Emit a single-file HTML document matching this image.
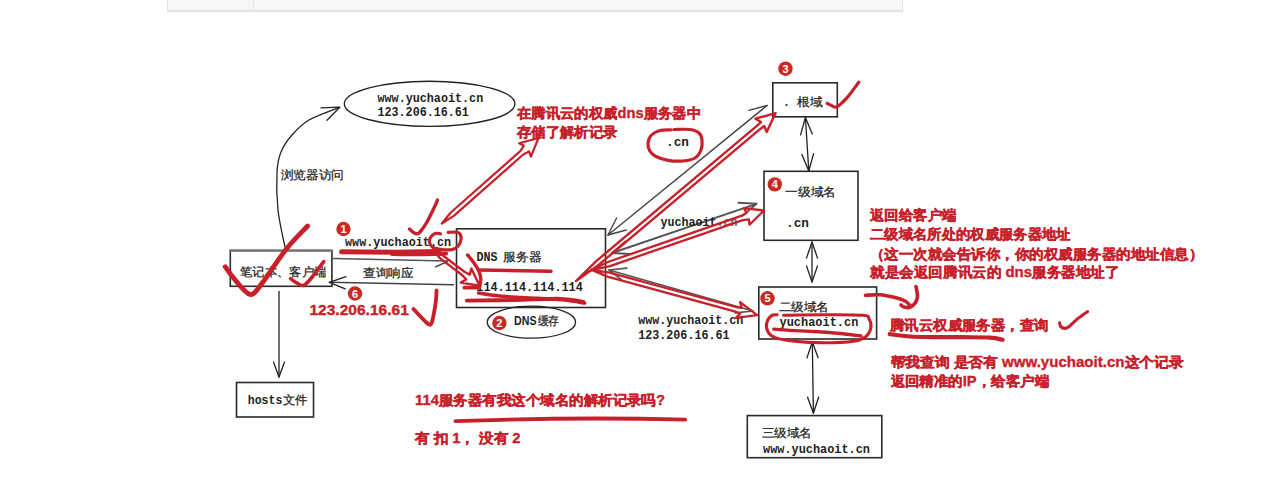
<!DOCTYPE html>
<html><head><meta charset="utf-8"><style>
html,body{margin:0;padding:0;background:#fff;width:1273px;height:500px;overflow:hidden}
#tbl{position:absolute;left:167px;top:0;width:734px;height:10px;background:#f7f7f7;border-left:1px solid #e4e4e4;border-right:1px solid #e4e4e4;border-bottom:2px solid #e4e4e4}
#tbl .d{position:absolute;left:85px;top:0;width:1px;height:10px;background:#e4e4e4}
svg{position:absolute;left:0;top:0}
.cj{font-family:"Liberation Sans",sans-serif;stroke:#222;stroke-width:0.25px}
.lb{font-family:"Liberation Sans",sans-serif}
.mo{font-family:"Liberation Mono",monospace}
.rb{font-family:"Liberation Sans",sans-serif;stroke:#c8202a;stroke-width:0.35px}
</style></head><body>
<div id="tbl"><div class="d"></div></div>
<svg width="1273" height="500" viewBox="0 0 1273 500">
<ellipse cx="429.6" cy="103.8" rx="85.3" ry="22.6" stroke="#222" stroke-width="1.4" fill="none"/>
<text x="377.5" y="101.5" class="mo" font-size="13.3" fill="#222" font-weight="bold" textLength="105.7" lengthAdjust="spacingAndGlyphs" >www.yuchaoit.cn</text>
<text x="377.5" y="115.9" class="mo" font-size="13.3" fill="#222" font-weight="bold" textLength="91.4" lengthAdjust="spacingAndGlyphs" >123.206.16.61</text>
<path d="M339.5,107.3 C334.4,109.4 316.9,115.4 309.0,120.0 C301.1,124.6 296.7,129.7 292.0,135.0 C287.3,140.3 283.5,145.8 281.0,152.0 C278.5,158.2 277.5,162.3 277.0,172.0 C276.5,181.7 276.7,197.5 278.0,210.0 C279.3,222.5 283.8,240.8 285.0,247.0" stroke="#222" stroke-width="1.3" fill="none" stroke-linecap="round" stroke-linejoin="round"/>
<path d="M321.0,107.8 L339.8,107.2 L327.0,120.2" stroke="#222" stroke-width="1.3" fill="none" stroke-linecap="round" stroke-linejoin="round" />
<text x="280.5" y="179" class="cj" font-size="12" fill="#222" font-weight="normal" textLength="63.5" lengthAdjust="spacingAndGlyphs" >浏览器访问</text>
<rect x="230.3" y="250.5" width="101.6" height="35.8" stroke="#2a2a2a" stroke-width="1.6" fill="none"/>
<path d="M230.3,250.6 L331.9,250.6" stroke="#777" stroke-width="2.4" fill="none" stroke-linecap="round" stroke-linejoin="round" />
<text x="239.8" y="275.5" class="cj" font-size="12" fill="#222" font-weight="normal" textLength="86.5" lengthAdjust="spacingAndGlyphs" >笔记本、客户端</text>
<path d="M279.0,291.5 L279.0,377.0" stroke="#222" stroke-width="1.3" fill="none" stroke-linecap="round" stroke-linejoin="round" />
<path d="M284.5,362.0 L279.0,377.0 L273.5,362.0" stroke="#222" stroke-width="1.3" fill="none" stroke-linecap="round" stroke-linejoin="round" />
<rect x="236.5" y="382.5" width="77" height="34.5" stroke="#2a2a2a" stroke-width="1.6" fill="none"/>
<text x="247.8" y="404.2" class="mo" font-size="13.3" fill="#222" font-weight="bold" textLength="34.5" lengthAdjust="spacingAndGlyphs" >hosts</text>
<text x="283" y="404" class="cj" font-size="12" fill="#222" font-weight="normal" textLength="24.5" lengthAdjust="spacingAndGlyphs" >文件</text>
<path d="M333.5,258.4 L447.4,261.0" stroke="#555" stroke-width="1.5" fill="none" stroke-linecap="round" stroke-linejoin="round" />
<path d="M435.5,266.9 L447.4,261.5" stroke="#444" stroke-width="1.5" fill="none" stroke-linecap="round" stroke-linejoin="round" />
<text x="363" y="276.5" class="cj" font-size="12" fill="#222" font-weight="normal" textLength="50.5" lengthAdjust="spacingAndGlyphs" >查询响应</text>
<path d="M453.4,284.7 L329.3,282.3" stroke="#444" stroke-width="1.5" fill="none" stroke-linecap="round" stroke-linejoin="round" />
<path d="M346.0,276.6 L329.3,282.3 L345.2,288.8" stroke="#222" stroke-width="1.3" fill="none" stroke-linecap="round" stroke-linejoin="round" />
<text x="345" y="245.5" class="mo" font-size="13.3" fill="#222" font-weight="bold" textLength="106.2" lengthAdjust="spacingAndGlyphs" >www.yuchaoit.cn</text>
<rect x="456.5" y="228.8" width="149" height="78.7" stroke="#2a2a2a" stroke-width="1.6" fill="none"/>
<text x="476.5" y="261" class="mo" font-size="13.3" fill="#222" font-weight="bold" textLength="21" lengthAdjust="spacingAndGlyphs" >DNS</text>
<text x="503" y="261.2" class="cj" font-size="12" fill="#222" font-weight="normal" textLength="38.5" lengthAdjust="spacingAndGlyphs" >服务器</text>
<text x="476.3" y="291.3" class="mo" font-size="13.3" fill="#222" font-weight="bold" textLength="106.5" lengthAdjust="spacingAndGlyphs" >114.114.114.114</text>
<ellipse cx="531.4" cy="322.2" rx="44.2" ry="16" stroke="#222" stroke-width="1.3" fill="none"/>
<text x="514" y="324.8" class="lb" font-size="12.8" fill="#222" font-weight="bold" textLength="22.5" lengthAdjust="spacingAndGlyphs" >DNS</text>
<text x="537.5" y="325.2" class="cj" font-size="12" fill="#222" font-weight="normal" textLength="21.5" lengthAdjust="spacingAndGlyphs" >缓存</text>
<rect x="772.8" y="82.8" width="64.5" height="34" stroke="#2a2a2a" stroke-width="1.6" fill="none"/>
<text x="783" y="106" class="mo" font-size="13.3" fill="#222" font-weight="bold" textLength="7.0" lengthAdjust="spacingAndGlyphs" >.</text>
<text x="797" y="106.2" class="cj" font-size="12" fill="#222" font-weight="normal" textLength="25.5" lengthAdjust="spacingAndGlyphs" >根域</text>
<rect x="764" y="171.3" width="94" height="69" stroke="#2a2a2a" stroke-width="1.6" fill="none"/>
<text x="785" y="196" class="cj" font-size="12" fill="#222" font-weight="normal" textLength="51" lengthAdjust="spacingAndGlyphs" >一级域名</text>
<text x="786" y="226.8" class="mo" font-size="13.3" fill="#222" font-weight="bold" textLength="23" lengthAdjust="spacingAndGlyphs" >.cn</text>
<rect x="758.8" y="287" width="117.8" height="52" stroke="#2a2a2a" stroke-width="1.6" fill="none"/>
<text x="778.5" y="311" class="cj" font-size="12" fill="#222" font-weight="normal" textLength="50.5" lengthAdjust="spacingAndGlyphs" >二级域名</text>
<text x="779.5" y="326.1" class="mo" font-size="13.3" fill="#222" font-weight="bold" textLength="78.8" lengthAdjust="spacingAndGlyphs" >yuchaoit.cn</text>
<rect x="747.3" y="415.6" width="134.5" height="42.1" stroke="#2a2a2a" stroke-width="1.6" fill="none"/>
<text x="761.5" y="437" class="cj" font-size="12" fill="#222" font-weight="normal" textLength="50.5" lengthAdjust="spacingAndGlyphs" >三级域名</text>
<text x="763" y="453" class="mo" font-size="13.3" fill="#222" font-weight="bold" textLength="107" lengthAdjust="spacingAndGlyphs" >www.yuchaoit.cn</text>
<path d="M805.4,117.5 L808.8,171.0" stroke="#222" stroke-width="1.3" fill="none" stroke-linecap="round" stroke-linejoin="round" />
<path d="M813.6,153.6 L808.8,171.0 L801.9,154.4" stroke="#222" stroke-width="1.3" fill="none" stroke-linecap="round" stroke-linejoin="round" />
<path d="M800.6,134.9 L805.4,117.5 L812.3,134.1" stroke="#222" stroke-width="1.3" fill="none" stroke-linecap="round" stroke-linejoin="round" />
<path d="M812.0,242.0 L812.0,282.0" stroke="#222" stroke-width="1.3" fill="none" stroke-linecap="round" stroke-linejoin="round" />
<path d="M817.5,265.9 L812.0,282.0 L806.5,265.9" stroke="#222" stroke-width="1.3" fill="none" stroke-linecap="round" stroke-linejoin="round" />
<path d="M806.5,258.1 L812.0,242.0 L817.5,258.1" stroke="#222" stroke-width="1.3" fill="none" stroke-linecap="round" stroke-linejoin="round" />
<path d="M812.3,341.7 L813.4,413.2" stroke="#222" stroke-width="1.3" fill="none" stroke-linecap="round" stroke-linejoin="round" />
<path d="M818.7,397.0 L813.4,413.2 L807.6,397.2" stroke="#222" stroke-width="1.3" fill="none" stroke-linecap="round" stroke-linejoin="round" />
<path d="M807.0,357.9 L812.3,341.7 L818.1,357.7" stroke="#222" stroke-width="1.3" fill="none" stroke-linecap="round" stroke-linejoin="round" />
<path d="M608.0,235.0 L767.2,105.4" stroke="#444" stroke-width="1.4" fill="none" stroke-linecap="round" stroke-linejoin="round" />
<path d="M748.9,110.4 L767.2,105.4" stroke="#444" stroke-width="1.4" fill="none" stroke-linecap="round" stroke-linejoin="round" />
<path d="M626.3,230.0 L608.0,235.0 L616.6,218.0" stroke="#444" stroke-width="1.4" fill="none" stroke-linecap="round" stroke-linejoin="round" />
<path d="M612.0,253.0 L756.5,203.8" stroke="#555" stroke-width="1.9" fill="none" stroke-linecap="round" stroke-linejoin="round" />
<path d="M738.5,202.8 L756.5,203.8 L742.9,215.6" stroke="#555" stroke-width="1.9" fill="none" stroke-linecap="round" stroke-linejoin="round" />
<path d="M630.0,254.0 L612.0,253.0 L625.6,241.2" stroke="#555" stroke-width="1.9" fill="none" stroke-linecap="round" stroke-linejoin="round" />
<path d="M609.0,270.0 L753.0,311.0" stroke="#555" stroke-width="1.6" fill="none" stroke-linecap="round" stroke-linejoin="round" />
<path d="M735.1,312.9 L753.0,311.0" stroke="#555" stroke-width="1.6" fill="none" stroke-linecap="round" stroke-linejoin="round" />
<path d="M623.2,281.1 L609.0,270.0 L626.9,268.1" stroke="#555" stroke-width="1.6" fill="none" stroke-linecap="round" stroke-linejoin="round" />
<text x="660.4" y="225.5" class="mo" font-size="13.3" fill="#222" font-weight="bold" textLength="56.2" lengthAdjust="spacingAndGlyphs" >yuchaoit</text>
<text x="716.6" y="225.5" class="mo" font-size="13.3" fill="#666" font-weight="bold" textLength="21" lengthAdjust="spacingAndGlyphs" >.cn</text>
<text x="638.2" y="323.9" class="mo" font-size="13.3" fill="#222" font-weight="bold" textLength="105.2" lengthAdjust="spacingAndGlyphs" >www.yuchaoit.cn</text>
<text x="638.2" y="338.7" class="mo" font-size="13.3" fill="#222" font-weight="bold" textLength="91.4" lengthAdjust="spacingAndGlyphs" >123.206.16.61</text>
<text x="666" y="145.6" class="mo" font-size="13.3" fill="#222" font-weight="bold" textLength="23" lengthAdjust="spacingAndGlyphs" >.cn</text>
<path d="M576.0,281.0 L598.9,264.7 L759.4,129.6 L764.2,126.0 L766.7,132.0 L775.6,113.1 L755.5,118.7 L761.0,122.1 L756.6,126.2 L596.0,261.3 L576.0,281.0" stroke="#c8202a" stroke-width="2.4" fill="none" stroke-linecap="round" stroke-linejoin="round" />
<path d="M591.5,270.0 L609.2,266.3 L742.8,220.2 L748.9,219.4 L749.5,224.7 L764.0,210.5 L743.9,208.2 L746.6,212.8 L741.3,215.9 L607.8,262.0 L591.5,270.0" stroke="#c8202a" stroke-width="2.3" fill="none" stroke-linecap="round" stroke-linejoin="round" />
<path d="M591.5,270.0 L608.3,276.9 L734.6,311.4 L740.2,313.6 L735.9,317.8 L757.2,315.2 L740.1,302.1 L741.8,307.9 L735.8,307.0 L609.5,272.6 L591.5,270.0" stroke="#c8202a" stroke-width="2.3" fill="none" stroke-linecap="round" stroke-linejoin="round" />
<path d="M441.8,223.5 L453.8,215.9 L523.5,154.3 L529.1,151.5 L530.9,156.6 L538.5,138.0 L519.2,143.3 L523.9,145.7 L520.5,150.9 L450.8,212.5 L441.8,223.5" stroke="#c8202a" stroke-width="2.2" fill="none" stroke-linecap="round" stroke-linejoin="round" />
<path d="M435.0,252.0 L440.2,258.4 L462.0,275.0 L466.2,279.4 L460.8,282.6 L479.6,285.8 L471.4,268.6 L469.8,274.6 L464.4,271.8 L442.6,255.2 L435.0,252.0" stroke="#c8202a" stroke-width="2.4" fill="none" stroke-linecap="round" stroke-linejoin="round" />
<path d="M467.6,255.0 C468.7,256.3 472.1,260.3 474.0,263.0 C475.9,265.7 477.7,268.3 478.8,271.0 C479.9,273.7 480.7,276.3 480.8,279.0 C480.9,281.7 479.8,285.7 479.6,287.0" stroke="#c8202a" stroke-width="3.4" fill="none" stroke-linecap="round" stroke-linejoin="round"/>
<path d="M464.4,287.7 L478.6,287.7" stroke="#c8202a" stroke-width="3.8" fill="none" stroke-linecap="round" stroke-linejoin="round" />
<path d="M225.2,266.7 C226.3,268.3 229.4,272.8 232.0,276.1 C234.6,279.4 237.8,283.4 240.5,286.3 C243.2,289.2 245.7,292.4 248.0,293.5 C250.3,294.6 251.1,295.7 254.1,293.1 C257.1,290.5 260.6,285.2 266.0,277.8 C271.4,270.4 279.5,257.5 286.4,248.9 C293.3,240.3 304.1,229.8 307.6,226.0" stroke="#c8202a" stroke-width="4.8" fill="none" stroke-linecap="round" stroke-linejoin="round"/>
<path d="M290.6,278.6 C291.6,279.3 294.5,281.8 296.6,282.9 C298.7,284.0 301.1,286.0 303.4,285.4 C305.7,284.8 306.8,283.5 310.2,279.5 C313.6,275.5 321.5,264.6 323.8,261.6" stroke="#c8202a" stroke-width="3.6" fill="none" stroke-linecap="round" stroke-linejoin="round"/>
<path d="M409.5,229.0 C410.1,229.5 411.8,231.4 413.0,232.2 C414.2,233.0 415.3,233.8 416.5,233.8 C417.7,233.8 418.2,234.0 420.0,232.0 C421.8,230.0 424.7,226.0 427.0,222.0 C429.3,218.0 432.2,211.7 434.0,208.0 C435.8,204.3 436.9,201.3 437.5,200.0" stroke="#c8202a" stroke-width="3.4" fill="none" stroke-linecap="round" stroke-linejoin="round"/>
<path d="M827.2,103.4 C827.9,103.7 829.8,104.8 831.2,105.4 C832.6,106.0 834.1,107.3 835.6,107.2 C837.1,107.1 837.9,106.4 840.0,104.6 C842.1,102.8 844.9,100.3 848.0,96.6 C851.1,92.9 857.0,84.6 858.8,82.2" stroke="#c8202a" stroke-width="3.2" fill="none" stroke-linecap="round" stroke-linejoin="round"/>
<path d="M413.5,309.0 C414.6,310.2 417.5,313.5 420.0,316.0 C422.5,318.5 426.5,323.1 428.5,324.2 C430.5,325.3 430.8,324.9 431.8,322.5 C432.8,320.1 433.8,313.8 434.5,310.0 C435.2,306.2 435.7,303.2 436.0,300.0 C436.3,296.8 436.4,292.1 436.5,290.5" stroke="#c8202a" stroke-width="3.8" fill="none" stroke-linecap="round" stroke-linejoin="round"/>
<path d="M1059.6,322.8 C1059.8,323.4 1059.8,325.5 1060.6,326.4 C1061.4,327.3 1063.0,328.4 1064.4,328.4 C1065.8,328.4 1066.9,328.1 1069.2,326.4 C1071.5,324.7 1074.9,320.9 1078.0,318.4 C1081.1,315.9 1086.0,312.7 1087.6,311.6" stroke="#c8202a" stroke-width="3.1" fill="none" stroke-linecap="round" stroke-linejoin="round"/>
<path d="M341.6,251.8 L395.0,252.3 L438.8,251.5" stroke="#c8202a" stroke-width="5" fill="none" stroke-linecap="round" stroke-linejoin="round" />
<path d="M392.0,253.8 C396.7,253.9 411.0,254.2 420.0,254.2 C429.0,254.1 441.7,253.6 446.0,253.5" stroke="#c8202a" stroke-width="4.2" fill="none" stroke-linecap="round" stroke-linejoin="round"/>
<path d="M478.8,270.0 L551.0,271.3" stroke="#c8202a" stroke-width="3.6" fill="none" stroke-linecap="round" stroke-linejoin="round" />
<path d="M478.6,293.0 C482.5,293.6 492.2,295.4 502.0,296.3 C511.8,297.2 527.0,297.7 537.5,298.3 C548.0,298.9 557.1,299.2 565.0,300.0 C572.9,300.8 581.3,302.5 584.6,303.0" stroke="#c8202a" stroke-width="3.6" fill="none" stroke-linecap="round" stroke-linejoin="round"/>
<path d="M466.8,300.6 C474.6,300.5 498.2,300.3 513.9,300.0 C529.6,299.7 549.4,298.5 561.0,298.8 C572.6,299.1 579.7,301.3 583.4,301.8" stroke="#c8202a" stroke-width="3.8" fill="none" stroke-linecap="round" stroke-linejoin="round"/>
<path d="M889.7,334.2 C892.2,334.5 899.8,335.5 905.0,336.0 C910.2,336.5 911.5,336.8 921.0,337.0 C930.5,337.2 950.5,337.1 962.0,337.2 C973.5,337.3 983.2,337.2 990.0,337.6 C996.8,338.0 1000.5,339.4 1002.6,339.8" stroke="#c8202a" stroke-width="4.2" fill="none" stroke-linecap="round" stroke-linejoin="round"/>
<path d="M455.4,421.2 C540,418 620,418 685.2,419.6" stroke="#c8202a" stroke-width="3.8" fill="none" stroke-linecap="round" stroke-linejoin="round"/>
<path d="M440.5,233.8 C439.6,233.7 436.8,232.8 435.2,233.4 C433.6,234.0 431.6,235.7 430.6,237.2 C429.7,238.7 429.1,240.8 429.5,242.5 C429.9,244.2 430.7,246.3 432.9,247.5 C435.1,248.7 439.6,249.2 442.8,249.6 C446.0,249.9 449.4,250.1 451.9,249.6 C454.4,249.1 456.5,248.0 458.0,246.3 C459.5,244.6 460.6,241.5 461.0,239.5 C461.4,237.5 460.9,235.7 460.3,234.5 C459.7,233.3 459.2,232.7 457.2,232.3 C455.2,231.9 449.6,232.3 448.1,232.3" stroke="#c8202a" stroke-width="3.2" fill="none" stroke-linecap="round" stroke-linejoin="round"/>
<path d="M671.0,129.8 C669.2,129.9 663.3,129.6 660.0,130.5 C656.7,131.4 653.0,133.4 651.0,135.5 C649.0,137.6 648.2,140.5 648.0,143.0 C647.8,145.5 648.2,148.2 649.5,150.5 C650.8,152.8 652.9,154.9 656.0,156.5 C659.1,158.1 663.5,159.6 668.0,160.3 C672.5,161.1 678.5,161.4 683.0,161.0 C687.5,160.6 692.0,159.8 695.0,158.0 C698.0,156.2 699.8,153.0 701.0,150.0 C702.2,147.0 702.3,142.8 702.0,140.0 C701.7,137.2 701.0,134.8 699.0,133.0 C697.0,131.2 694.2,130.1 690.0,129.5 C685.8,128.9 676.7,129.5 674.0,129.5" stroke="#c8202a" stroke-width="3.2" fill="none" stroke-linecap="round" stroke-linejoin="round"/>
<path d="M777.1,314.8 C776.2,314.9 773.4,314.2 771.7,315.5 C770.0,316.8 767.4,320.0 766.8,322.7 C766.1,325.4 766.5,329.1 767.8,331.5 C769.1,333.9 770.2,335.8 774.6,337.4 C779.0,339.0 786.1,340.4 794.3,341.3 C802.5,342.2 814.0,342.8 823.8,342.8 C833.6,342.8 846.2,342.4 853.2,341.3 C860.2,340.2 863.0,338.7 866.0,336.4 C869.0,334.1 870.4,330.5 870.9,327.6 C871.4,324.7 870.3,320.9 869.0,318.8 C867.7,316.8 870.5,316.0 863.0,315.3 C855.5,314.6 837.0,314.8 823.8,314.8 C810.5,314.8 790.2,315.2 783.5,315.3" stroke="#c8202a" stroke-width="3.1" fill="none" stroke-linecap="round" stroke-linejoin="round"/>
<path d="M773.7,329.1 C776.4,329.3 783.3,329.9 790.0,330.3 C796.7,330.7 805.7,331.0 814.0,331.5 C822.3,332.0 832.2,332.8 840.0,333.5 C847.8,334.2 857.5,335.6 861.0,336.0" stroke="#c8202a" stroke-width="3.3" fill="none" stroke-linecap="round" stroke-linejoin="round"/>
<path d="M865.5,295.3 C867.9,295.2 875.1,294.4 880.0,294.8 C884.9,295.2 890.8,296.5 895.0,297.5 C899.2,298.5 902.6,299.8 905.0,301.0 C907.4,302.2 908.8,304.3 909.5,305.0" stroke="#c8202a" stroke-width="3.6" fill="none" stroke-linecap="round" stroke-linejoin="round"/>
<path d="M916.0,286.5 C916.2,288.1 917.6,293.3 917.5,296.0 C917.4,298.7 916.8,300.6 915.5,302.5 C914.2,304.4 911.9,306.6 910.0,307.3 C908.1,308.1 905.5,307.4 904.0,307.0 C902.5,306.6 901.5,305.3 901.0,305.0" stroke="#c8202a" stroke-width="3.6" fill="none" stroke-linecap="round" stroke-linejoin="round"/>
<circle cx="343.5" cy="229" r="7.2" fill="#c92a22"/>
<text x="343.5" y="233" class="lb" font-size="11" fill="#fff" font-weight="bold" text-anchor="middle">1</text>
<circle cx="499.4" cy="323" r="7.2" fill="#c92a22"/>
<text x="499.4" y="327" class="lb" font-size="11" fill="#fff" font-weight="bold" text-anchor="middle">2</text>
<circle cx="785.5" cy="68.7" r="7.2" fill="#c92a22"/>
<text x="785.5" y="72.7" class="lb" font-size="11" fill="#fff" font-weight="bold" text-anchor="middle">3</text>
<circle cx="774.8" cy="184.4" r="7.2" fill="#c92a22"/>
<text x="774.8" y="188.4" class="lb" font-size="11" fill="#fff" font-weight="bold" text-anchor="middle">4</text>
<circle cx="767.5" cy="298.3" r="7.2" fill="#c92a22"/>
<text x="767.5" y="302.3" class="lb" font-size="11" fill="#fff" font-weight="bold" text-anchor="middle">5</text>
<circle cx="355" cy="293.5" r="7.2" fill="#c92a22"/>
<text x="355" y="297.5" class="lb" font-size="11" fill="#fff" font-weight="bold" text-anchor="middle">6</text>
<text x="517" y="118" class="rb" font-size="14.3" fill="#c8202a" font-weight="bold" textLength="184" lengthAdjust="spacingAndGlyphs" >在腾讯云的权威dns服务器中</text>
<text x="517" y="137" class="rb" font-size="14.3" fill="#c8202a" font-weight="bold" textLength="100.5" lengthAdjust="spacingAndGlyphs" >存储了解析记录</text>
<text x="309.4" y="315" class="rb" font-size="15" fill="#c8202a" font-weight="bold" textLength="99.5" lengthAdjust="spacingAndGlyphs" >123.206.16.61</text>
<text x="870" y="220.2" class="rb" font-size="14.3" fill="#c8202a" font-weight="bold" textLength="86.5" lengthAdjust="spacingAndGlyphs" >返回给客户端</text>
<text x="870" y="239.4" class="rb" font-size="14.3" fill="#c8202a" font-weight="bold" textLength="200.5" lengthAdjust="spacingAndGlyphs" >二级域名所处的权威服务器地址</text>
<text x="870" y="258.6" class="rb" font-size="14.3" fill="#c8202a" font-weight="bold" textLength="333" lengthAdjust="spacingAndGlyphs" >（这一次就会告诉你，你的权威服务器的地址信息）</text>
<text x="870" y="277" class="rb" font-size="14.3" fill="#c8202a" font-weight="bold" textLength="249.5" lengthAdjust="spacingAndGlyphs" >就是会返回腾讯云的 dns服务器地址了</text>
<text x="890" y="329.5" class="rb" font-size="14.3" fill="#c8202a" font-weight="bold" textLength="158.5" lengthAdjust="spacingAndGlyphs" >腾讯云权威服务器，查询</text>
<text x="890.5" y="367" class="rb" font-size="14.3" fill="#c8202a" font-weight="bold" textLength="293" lengthAdjust="spacingAndGlyphs" >帮我查询 是否有 www.yuchaoit.cn这个记录</text>
<text x="890.5" y="386" class="rb" font-size="14.3" fill="#c8202a" font-weight="bold" textLength="158.5" lengthAdjust="spacingAndGlyphs" >返回精准的IP，给客户端</text>
<text x="415" y="405" class="rb" font-size="14.3" fill="#c8202a" font-weight="bold" textLength="250" lengthAdjust="spacingAndGlyphs" >114服务器有我这个域名的解析记录吗?</text>
<text x="415" y="442.7" class="rb" font-size="14.3" fill="#c8202a" font-weight="bold" textLength="105.5" lengthAdjust="spacingAndGlyphs" >有 扣 1， 没有 2</text>
</svg>
</body></html>
